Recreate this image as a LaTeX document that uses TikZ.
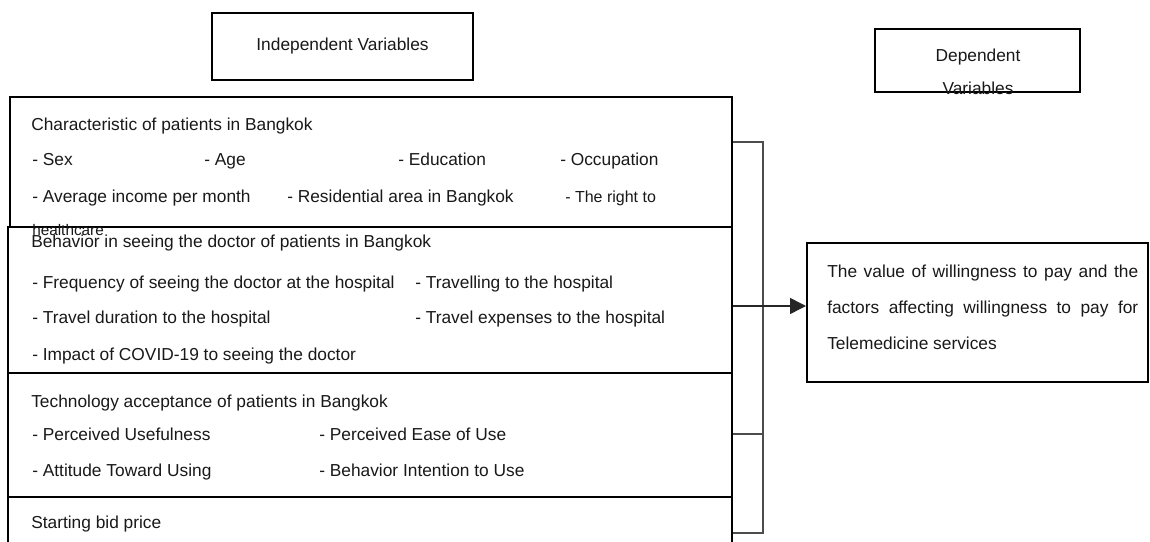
\documentclass[tikz,border=0pt]{standalone}
\usepackage{fontspec}
\setmainfont{Liberation Sans}
\usetikzlibrary{arrows.meta}
\begin{document}
\begin{tikzpicture}[x=0.75pt,y=-0.75pt,
  box/.style={draw=black,line width=1.5pt,rectangle,inner sep=0pt,fill=none},
  lbl/.style={anchor=base west,inner sep=0pt,font=\fontsize{13}{15.6}\selectfont,text=black!90},
  small/.style={lbl,font=\fontsize{12}{14}\selectfont},
  brk/.style={draw=black!70,line width=0.8pt},
  link/.style={draw=black!85,line width=1.1pt,-{Triangle[length=12pt,width=12pt]}}]
\path[use as bounding box,clip] (0,0) rectangle (1150,542);
\fill[white] (0,0) rectangle (1150,542);

% header boxes
\node[box,minimum width=195.75pt,minimum height=50.25pt,font=\fontsize{13}{15.6}\selectfont,text=black!90] (indep) at (342.5,46.5) {Independent Variables};
\node[box,minimum width=153.75pt,minimum height=47.25pt] (dephead) at (977.5,60.5) {};
\node[lbl,anchor=base] (dept1) at (978,62) {Dependent};
\node[lbl,anchor=base] (dept2) at (978,94) {Variables};

% independent variable boxes
\node[box,minimum width=541.5pt,minimum height=97.5pt] (b1) at (371,162) {};
\node[box,minimum width=543pt,minimum height=109.5pt] (b2) at (370,300) {};
\node[box,minimum width=543pt,minimum height=93pt] (b3) at (370,435) {};
\node[box,minimum width=543pt,minimum height=54.75pt] (b4) at (370,533.5) {};

% box 1 texts
\node[lbl] (t1) at (31,130) {Characteristic of patients in Bangkok};
\node[lbl] (t1a) at (32,165) {- Sex};
\node[lbl] (t1b) at (204,165) {- Age};
\node[lbl] (t1c) at (398,165) {- Education};
\node[lbl] (t1d) at (560,165) {- Occupation};
\node[lbl] (t1e) at (32,202) {- Average income per month};
\node[lbl] (t1f) at (287,202) {- Residential area in Bangkok};
\node[small] (t1g) at (565,202) {- The right to};
\node[small,font=\fontsize{11.5}{13}\selectfont] (t1h) at (32,235) {healthcare};

% box 2 texts
\node[lbl] (t2) at (31,247) {Behavior in seeing the doctor of patients in Bangkok};
\node[lbl] (t2a) at (32,288) {- Frequency of seeing the doctor at the hospital};
\node[lbl] (t2b) at (415,288) {- Travelling to the hospital};
\node[lbl] (t2c) at (32,323) {- Travel duration to the hospital};
\node[lbl] (t2d) at (415,323) {- Travel expenses to the hospital};
\node[lbl] (t2e) at (32,360) {- Impact of COVID-19 to seeing the doctor};

% box 3 texts
\node[lbl] (t3) at (31,407) {Technology acceptance of patients in Bangkok};
\node[lbl] (t3a) at (32,440) {- Perceived Usefulness};
\node[lbl] (t3b) at (319,440) {- Perceived Ease of Use};
\node[lbl] (t3c) at (32,476) {- Attitude Toward Using};
\node[lbl] (t3d) at (319,476) {- Behavior Intention to Use};

% box 4 text
\node[lbl] (t4) at (31,528) {Starting bid price};

% dependent box
\node[box,minimum width=255.75pt,minimum height=104.25pt] (dep) at (977.5,312.5) {};
\node[lbl,text width=233.25pt,align=justify,font=\fontsize{13}{27}\selectfont] (dept) at (827,277)
  {The value of willingness to pay and the\linebreak factors affecting willingness to pay for\linebreak Telemedicine services};

% bracket and arrow
\coordinate (bt) at (763,142);
\coordinate (bb) at (763,533);
\coordinate (bs) at (763,434);
\coordinate (bm) at (763,306);
\draw[brk] (b1.east |- bt) -- (bt) -- (bb) -- (b4.east |- bb);
\draw[brk] (b3.east |- bs) -- (bs);
\draw[link] (b2.east |- bm) -- (dep.west |- bm);
\end{tikzpicture}
\end{document}
